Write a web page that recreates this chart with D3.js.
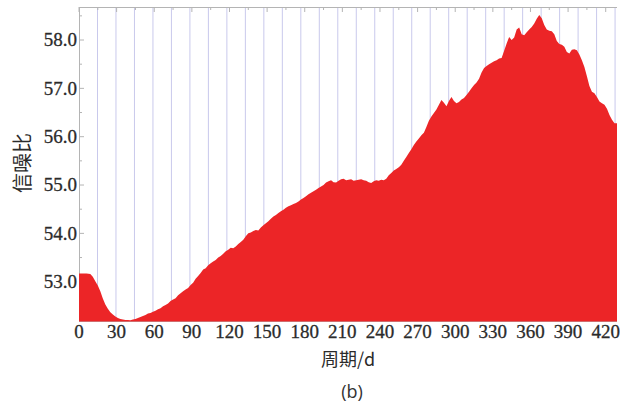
<!DOCTYPE html>
<html>
<head>
<meta charset="utf-8">
<script src="https://cdn.jsdelivr.net/npm/d3@7/dist/d3.min.js"></script>
<style>
  html, body { margin: 0; padding: 0; background: #fff; }
  svg { display: block; }
  .num { font-family: "Liberation Serif", "Times New Roman", "DejaVu Serif", serif; font-size: 19px; fill: #2b2b2b; stroke: #2b2b2b; stroke-width: 0.3px; }
  .cjk { font-family: "Noto Sans CJK SC", "Noto Sans", sans-serif; fill: #2b2b2b; }
  .cap { font-family: "Open Sans", "Noto Sans", sans-serif; font-size: 18px; fill: #333; }
</style>
</head>
<body>
<svg id="chart" width="620" height="405"></svg>
<script>
// Period (days) and signal-to-noise ratio
const days = [
  0, 3, 6, 9, 11, 13, 15, 17, 19, 21, 23, 25, 27, 29, 31, 33, 35, 37, 39, 41,
  43, 45, 47, 49, 51, 53, 55, 57, 59, 61, 63, 65, 67, 69, 71, 73, 75, 77, 79, 81,
  83, 85, 87, 89, 91, 93, 95, 97, 99, 101, 103, 105, 107, 109, 111, 113, 115, 117, 119, 121,
  123, 125, 127, 129, 131, 133, 135, 137, 139, 141, 143, 145, 147, 149, 151, 153, 155, 157, 159, 161,
  163, 165, 167, 169, 171, 173, 175, 177, 179, 181, 183, 185, 187, 189, 191, 193, 195, 197, 199, 201,
  203, 205, 207, 209, 211, 213, 215, 217, 219, 221, 223, 225, 227, 229, 231, 233, 235, 237, 239, 241,
  243, 245, 247, 249, 251, 253, 255, 257, 259, 261, 263, 265, 267, 269, 271, 273, 275, 277, 279, 281,
  283, 285, 287, 289, 291, 293, 295, 297, 299, 301, 303, 305, 307, 309, 311, 313, 315, 317, 319, 321,
  323, 325, 327, 329, 331, 333, 335, 337, 339, 341, 343, 345, 347, 349, 351, 353, 355, 357, 359, 361,
  363, 365, 367, 369, 371, 373, 375, 377, 379, 381, 383, 385, 387, 389, 391, 393, 395, 397, 399, 401,
  403, 405, 407, 409, 411, 413, 415, 417, 419, 421, 423, 425, 427, 429
];
const snr = [
  53.17, 53.17, 53.17, 53.16, 53.10, 53.01, 52.92, 52.80, 52.65, 52.53, 52.44, 52.37, 52.32, 52.28, 52.25, 52.23, 52.22, 52.21, 52.21, 52.20,
  52.22, 52.23, 52.25, 52.27, 52.29, 52.31, 52.34, 52.35, 52.38, 52.40, 52.43, 52.45, 52.49, 52.52, 52.55, 52.60, 52.63, 52.66, 52.72, 52.76,
  52.80, 52.84, 52.87, 52.93, 52.98, 53.06, 53.12, 53.18, 53.25, 53.28, 53.34, 53.38, 53.42, 53.45, 53.50, 53.53, 53.58, 53.63, 53.66, 53.70,
  53.69, 53.73, 53.78, 53.82, 53.87, 53.94, 54.00, 54.02, 54.05, 54.07, 54.06, 54.12, 54.17, 54.21, 54.25, 54.30, 54.35, 54.38, 54.42, 54.46,
  54.49, 54.53, 54.56, 54.58, 54.61, 54.63, 54.66, 54.70, 54.73, 54.77, 54.81, 54.84, 54.87, 54.90, 54.94, 54.97, 55.00, 55.05, 55.08, 55.10,
  55.06, 55.05, 55.09, 55.12, 55.13, 55.10, 55.11, 55.12, 55.09, 55.10, 55.11, 55.12, 55.10, 55.09, 55.06, 55.04, 55.08, 55.10, 55.09, 55.11,
  55.10, 55.13, 55.20, 55.25, 55.30, 55.33, 55.37, 55.42, 55.50, 55.58, 55.66, 55.74, 55.83, 55.90, 55.96, 56.03, 56.08, 56.20, 56.33, 56.42,
  56.49, 56.56, 56.66, 56.76, 56.70, 56.63, 56.74, 56.82, 56.74, 56.69, 56.72, 56.77, 56.80, 56.86, 56.93, 57.00, 57.07, 57.12, 57.20, 57.33,
  57.42, 57.46, 57.50, 57.53, 57.56, 57.58, 57.62, 57.63, 57.78, 57.93, 58.06, 58.00, 58.05, 58.22, 58.26, 58.12, 58.10, 58.16, 58.22, 58.27,
  58.34, 58.44, 58.52, 58.45, 58.31, 58.22, 58.19, 58.18, 58.12, 57.98, 57.92, 57.90, 57.86, 57.75, 57.72, 57.80, 57.81, 57.79, 57.70, 57.58,
  57.44, 57.25, 57.05, 56.93, 56.90, 56.82, 56.73, 56.69, 56.66, 56.58, 56.45, 56.35, 56.28, 56.28
];
const xTicks = [0, 30, 60, 90, 120, 150, 180, 210, 240, 270, 300, 330, 360, 390, 420];
const yTicks = [53.0, 54.0, 55.0, 56.0, 57.0, 58.0];
const gridStep = 14.74; // vertical grid spacing in days
const xTitle = "周期/d";
const yTitle = "信噪比";
const caption = "(b)";

const data = days.map((d, i) => ({ d, v: snr[i] }));

const svg = d3.select("#chart");
const plotLeft = 79, plotRight = 617, plotTop = 7, plotBottom = 321;

const x = d3.scaleLinear().domain([0, 429]).range([plotLeft, plotRight]);
const y = d3.scaleLinear().domain([52.187, 58.683]).range([plotBottom, plotTop]);

// vertical grid lines
const gridVals = d3.range(1, 30).map(k => k * gridStep).filter(v => v <= 429);
svg.append("g").selectAll("line").data(gridVals).join("line")
  .attr("x1", d => x(d)).attr("x2", d => x(d))
  .attr("y1", plotTop).attr("y2", plotBottom)
  .attr("stroke", "#c9c9ec").attr("stroke-width", 1);

// frame
const frame = svg.append("g").attr("stroke", "#b4b4b4").attr("fill", "none");
frame.append("line").attr("x1", plotLeft).attr("x2", plotRight).attr("y1", plotTop + 0.5).attr("y2", plotTop + 0.5);
frame.append("line").attr("x1", plotLeft + 0.5).attr("x2", plotLeft + 0.5).attr("y1", plotTop).attr("y2", plotBottom);
frame.append("line").attr("x1", plotLeft).attr("x2", plotRight).attr("y1", plotBottom + 0.5).attr("y2", plotBottom + 0.5);

// frame ticks (inward), major and minor
const xMinor = d3.range(15, 430, 30);
const yMinor = d3.range(52.5, 58.6, 1);
const tk = svg.append("g").attr("stroke", "#b4b4b4");
tk.selectAll(".xt").data(xTicks).join("line")
  .attr("x1", d => x(d)).attr("x2", d => x(d)).attr("y1", plotTop).attr("y2", plotTop + 5);
tk.selectAll(".xm").data(xMinor).join("line")
  .attr("x1", d => x(d)).attr("x2", d => x(d)).attr("y1", plotTop).attr("y2", plotTop + 3);
tk.selectAll(".yt").data(yTicks).join("line")
  .attr("x1", plotLeft).attr("x2", plotLeft + 5).attr("y1", d => y(d)).attr("y2", d => y(d));
tk.selectAll(".ym").data(yMinor).join("line")
  .attr("x1", plotLeft).attr("x2", plotLeft + 3).attr("y1", d => y(d)).attr("y2", d => y(d));

// filled area
const area = d3.area()
  .x(d => x(d.d))
  .y0(plotBottom + 0.5)
  .y1(d => y(d.v))
  .curve(d3.curveLinear);
svg.append("path").datum(data)
  .attr("d", area)
  .attr("fill", "#ec2527");

// tick labels
svg.append("g").selectAll("text").data(xTicks).join("text")
  .attr("class", "num")
  .attr("x", d => x(d)).attr("y", 338)
  .attr("text-anchor", "middle")
  .text(d => d);
svg.append("g").selectAll("text").data(yTicks).join("text")
  .attr("class", "num")
  .attr("x", 77).attr("y", d => y(d)).attr("dy", "0.34em")
  .attr("text-anchor", "end")
  .text(d => d3.format(".1f")(d));

// axis titles
svg.append("text")
  .attr("class", "cjk")
  .attr("x", 348).attr("y", 366)
  .attr("text-anchor", "middle")
  .style("font-size", "18px")
  .text(xTitle);
svg.append("text")
  .attr("class", "cjk")
  .attr("transform", "translate(30,163) rotate(-90)")
  .attr("text-anchor", "middle")
  .style("font-size", "20px")
  .text(yTitle);

// caption
svg.append("text")
  .attr("class", "cap")
  .attr("x", 352).attr("y", 398)
  .attr("text-anchor", "middle")
  .text(caption);
</script>
</body>
</html>
